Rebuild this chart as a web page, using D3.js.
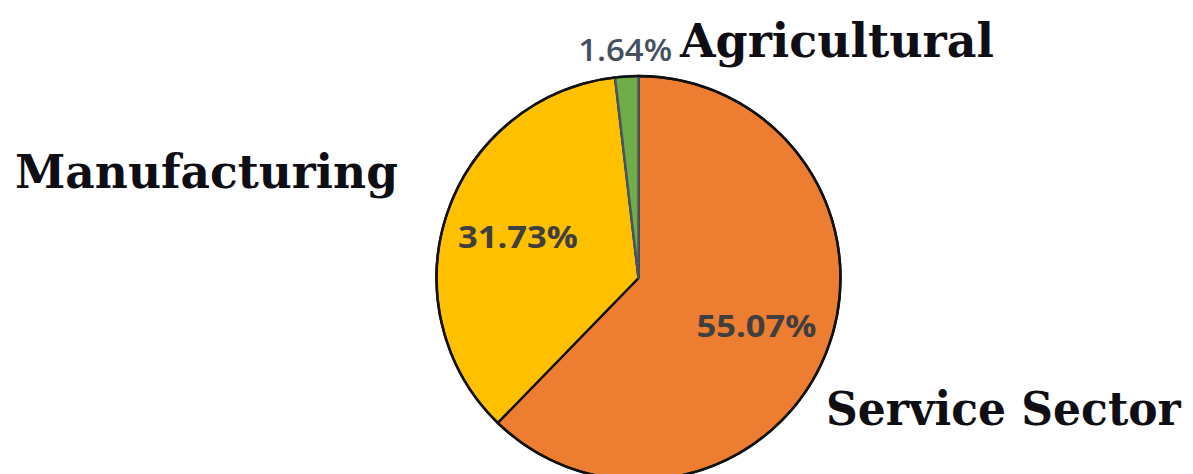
<!DOCTYPE html>
<html>
<head>
<meta charset="utf-8">
<script src="https://cdn.jsdelivr.net/npm/d3@7"></script>
<style>
  html, body { margin: 0; padding: 0; background: #fff; }
  svg { display: block; }
</style>
</head>
<body>
<svg id="chart" width="1193" height="474"></svg>
<script>
// Sector shares of the economy (percent)
const sectors = ["Service Sector", "Manufacturing", "Agricultural"];
const shares = [55.07, 31.73, 1.64];
const sliceColors = ["#ED7D31", "#FFC000", "#70AD47"];
const sliceStrokes = ["#111111", "#111111", "#44546A"];
const valueLabels = ["55.07%", "31.73%", "1.64%"];

const W = 1193, H = 474;
const cx = 638.5, cy = 278, R = 202;

const svg = d3.select("#chart");
const g = svg.append("g").attr("transform", `translate(${cx},${cy})`);

const rows = sectors.map((name, i) => ({ name, value: shares[i], i }));

const pie = d3.pie().sort(null).value(d => d.value);
const arcs = pie(rows);

const arc = d3.arc().innerRadius(0).outerRadius(R);

// Slices
g.selectAll("path.slice")
  .data(arcs)
  .join("path")
  .attr("class", "slice")
  .attr("d", arc)
  .attr("fill", d => sliceColors[d.data.i])
  .attr("stroke", d => sliceStrokes[d.data.i])
  .attr("stroke-width", 2.4)
  .attr("stroke-linejoin", "round");

// Outer rim drawn on top so the circle edge stays dark
g.append("circle").attr("r", R).attr("fill", "none")
  .attr("stroke", "#111").attr("stroke-width", 2.5);

// Squeeze/stretch a text horizontally so it spans a given width
function fitWidth(sel, width, anchorX, baseY) {
  sel.each(function (d) {
    const node = this;
    const w0 = node.getBBox().width;
    const k = width(d) / w0;
    d3.select(node).attr("transform",
      `translate(${anchorX(d)},${baseY(d)}) scale(${k},1)`);
  });
}

// Value labels: inside for the large slices, outside for the thin slice
const insideArc = d3.arc().innerRadius(R * 0.63).outerRadius(R * 0.63);
const outsideArc = d3.arc().innerRadius(R + 27).outerRadius(R + 27);

const labelWidths = [120, 120, 94];
const vals = g.selectAll("text.val")
  .data(arcs)
  .join("text")
  .attr("class", "val")
  .attr("text-anchor", "middle")
  .attr("dy", "0.36em")
  .attr("font-family", "'Open Sans', 'Liberation Sans', sans-serif")
  .attr("font-weight", d => d.data.i === 2 ? 600 : 700)
  .attr("font-size", 31)
  .attr("fill", d => d.data.i === 2 ? "#44505e" : "#3f3f3f")
  .text(d => valueLabels[d.data.i]);
const labelPos = d => (d.data.i === 2 ? outsideArc : insideArc).centroid(d);
fitWidth(vals, d => labelWidths[d.data.i], d => labelPos(d)[0], d => labelPos(d)[1]);

// Category names
const catFont = "'DejaVu Serif', 'Liberation Serif', serif";
const cats = [
  { name: sectors[0], x: 826, y: 425, w: 356 },
  { name: sectors[1], x: 15, y: 188, w: 383 },
  { name: sectors[2], x: 680, y: 57, w: 315 }
];
const catText = svg.selectAll("text.cat")
  .data(cats)
  .join("text")
  .attr("class", "cat")
  .attr("font-family", catFont)
  .attr("font-weight", 700)
  .attr("font-size", 47)
  .attr("fill", "#0e0e14")
  .text(d => d.name);
fitWidth(catText, d => d.w, d => d.x, d => d.y);
</script>
</body>
</html>
